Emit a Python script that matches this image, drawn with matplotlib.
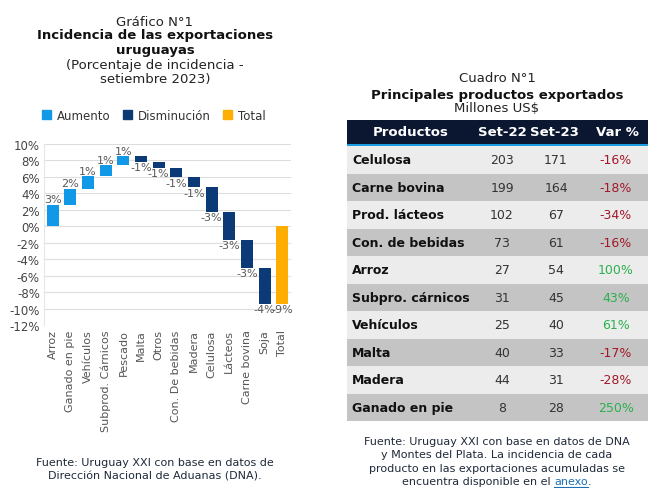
import matplotlib
matplotlib.use("Agg")
import matplotlib.pyplot as plt
from matplotlib.patches import Rectangle, Patch
import numpy as np

# ---- Waterfall data ----
categories = ["Arroz", "Ganado en pie", "Vehículos", "Subprod. Cárnicos", "Pescado",
              "Malta", "Otros", "Con. De bebidas", "Madera", "Celulosa", "Lácteos",
              "Carne bovina", "Soja"]
incidence = [2.64, 1.95, 1.47, 1.34, 1.14, -0.69, -0.73, -1.18, -1.20, -3.00, -3.38, -3.40, -4.35]
total_label = "Total"
y_ticks = [10, 8, 6, 4, 2, 0, -2, -4, -6, -8, -10, -12]

# ---- Table data ----
products = ["Celulosa", "Carne bovina", "Prod. lácteos", "Con. de bebidas", "Arroz",
            "Subpro. cárnicos", "Vehículos", "Malta", "Madera", "Ganado en pie"]
set22 = [203, 199, 102, 73, 27, 31, 25, 40, 44, 8]
set23 = [171, 164, 67, 61, 54, 45, 40, 33, 31, 28]
var_pct = [-16, -18, -34, -16, 100, 43, 61, -17, -28, 250]
headers = ["Productos", "Set-22", "Set-23", "Var %"]

C_UP = "#1198e6"
C_DOWN = "#0c3a77"
C_TOT = "#fdae00"
LBL = "#595959"

W, H = 650, 489
fig = plt.figure(figsize=(6.5, 4.89), dpi=100)
fig.patch.set_facecolor("white")

def fx(px):
    return px / W

def fy(py):
    return 1 - py / H

# ---- Left titles ----
cx = 155
fig.text(fx(cx), fy(22), "Gráfico N°1", ha="center", va="center", fontsize=9.5, color="#222222")
fig.text(fx(cx), fy(36), "Incidencia de las exportaciones", ha="center", va="center",
         fontsize=9.5, fontweight="bold", color="#111111")
fig.text(fx(cx), fy(51), "uruguayas", ha="center", va="center", fontsize=9.5,
         fontweight="bold", color="#111111")
fig.text(fx(cx), fy(66), "(Porcentaje de incidencia -", ha="center", va="center",
         fontsize=9.5, color="#222222")
fig.text(fx(cx), fy(80), "setiembre 2023)", ha="center", va="center", fontsize=9.5, color="#222222")

# ---- Waterfall axes ----
ax = fig.add_axes([fx(44), fy(326), fx(291) - fx(44), fy(145) - fy(326)])
vals = np.array(incidence)
ends = np.cumsum(vals)
starts = ends - vals
n = len(categories)
x = np.arange(n + 1)
colors = [C_UP if v >= 0 else C_DOWN for v in vals]
ax.bar(x[:n], vals, bottom=starts, width=0.68, color=colors, zorder=3)
total = ends[-1]
ax.bar(x[n], total, bottom=0, width=0.68, color=C_TOT, zorder=3)

for i, v in enumerate(vals):
    lab = f"{round(v):d}%"
    if v >= 0:
        ax.text(x[i], ends[i] + 0.05, lab, ha="center", va="bottom", fontsize=8, color=LBL, zorder=4)
    else:
        ax.text(x[i], ends[i] - 0.05, lab, ha="center", va="top", fontsize=8, color=LBL, zorder=4)
ax.text(x[n], total - 0.05, f"{round(total):d}%", ha="center", va="top", fontsize=8, color=LBL, zorder=4)

ax.set_xlim(-0.5, n + 0.5)
ax.set_ylim(-12, 10)
ax.set_yticks(y_ticks)
ax.set_yticklabels([f"{t}%" for t in y_ticks], fontsize=8.5, color="#444444")
ax.set_xticks(x)
ax.set_xticklabels(categories + [total_label], rotation=90, fontsize=8, color="#555555")
ax.tick_params(axis="both", length=0, pad=3)
ax.grid(axis="y", color="#dddddd", linewidth=0.8, zorder=0)
for s in ["top", "right", "bottom"]:
    ax.spines[s].set_visible(False)
ax.spines["left"].set_color("#e6e6e6")
ax.spines["left"].set_linewidth(0.8)

# ---- Legend ----
handles = [Patch(color=C_UP, label="Aumento"), Patch(color=C_DOWN, label="Disminución"),
           Patch(color=C_TOT, label="Total")]
fig.legend(handles=handles, loc="center", bbox_to_anchor=(fx(154), fy(116)), ncol=3,
           frameon=False, fontsize=8.5, handlelength=0.8, handleheight=0.8,
           handletextpad=0.5, columnspacing=1.0, labelcolor="#333333")

# ---- Left footer ----
fig.text(fx(155), fy(463), "Fuente: Uruguay XXI con base en datos de", ha="center", va="center",
         fontsize=8, color="#1f2a3a")
fig.text(fx(155), fy(477), "Dirección Nacional de Aduanas (DNA).", ha="center", va="center",
         fontsize=8, color="#1f2a3a")

# ---- Right titles ----
rx = 497
fig.text(fx(rx), fy(79), "Cuadro N°1", ha="center", va="center", fontsize=9.5, color="#222222")
fig.text(fx(rx), fy(95), "Principales productos exportados", ha="center", va="center",
         fontsize=9.5, fontweight="bold", color="#111111")
fig.text(fx(rx), fy(109), "Millones US$", ha="center", va="center", fontsize=9.5, color="#222222")

# ---- Table ----
tl, tr, tt, tb = 347, 648, 121, 422
tax = fig.add_axes([fx(tl), fy(tb), fx(tr) - fx(tl), fy(tt) - fy(tb)])
tax.set_xlim(tl, tr)
tax.set_ylim(tb, tt)
tax.axis("off")
head_h = 26
nrows = len(products)
row_h = (tb - tt - head_h) / nrows
tax.add_patch(Rectangle((tl, tt), tr - tl, head_h, color="#0b1731", lw=0))
tax.add_patch(Rectangle((tl, tt + head_h - 2.5), tr - tl, 2.5, color="#1a9be2", lw=0))
head_x = [411, 502, 554, 617]
col_x = [None, 502, 556, 616]
for h, cxp in zip(headers, head_x):
    tax.text(cxp, tt + head_h / 2 - 1, h, ha="center", va="center", fontsize=9.5,
             fontweight="bold", color="white")
for i in range(nrows):
    y0 = tt + head_h + i * row_h
    bg = "#ececec" if i % 2 == 0 else "#c4c4c4"
    tax.add_patch(Rectangle((tl, y0), tr - tl, row_h, color=bg, lw=0))
    yc = y0 + row_h / 2
    tax.text(352, yc, products[i], ha="left", va="center", fontsize=9, fontweight="bold",
             color="#111111")
    tax.text(col_x[1], yc, str(set22[i]), ha="center", va="center", fontsize=9, color="#333333")
    tax.text(col_x[2], yc, str(set23[i]), ha="center", va="center", fontsize=9, color="#333333")
    vc = "#a3182a" if var_pct[i] < 0 else "#2bb04e"
    tax.text(col_x[3], yc, f"{var_pct[i]}%", ha="center", va="center", fontsize=9, color=vc)

# ---- Right footer ----
fig.text(fx(rx), fy(442), "Fuente: Uruguay XXI con base en datos de DNA", ha="center",
         va="center", fontsize=8, color="#1f2a3a")
fig.text(fx(rx), fy(455.5), "y Montes del Plata. La incidencia de cada", ha="center",
         va="center", fontsize=8, color="#1f2a3a")
fig.text(fx(rx), fy(469), "producto en las exportaciones acumuladas se", ha="center",
         va="center", fontsize=8, color="#1f2a3a")
yl = 482.5
t1 = fig.text(0, fy(yl), "encuentra disponible en el ", ha="left", va="center",
              fontsize=8, color="#1f2a3a")
t2 = fig.text(0, fy(yl), "anexo", ha="left", va="center", fontsize=8, color="#1a6fb5")
t3 = fig.text(0, fy(yl), ".", ha="left", va="center", fontsize=8, color="#1f2a3a")
fig.canvas.draw()
r = fig.canvas.get_renderer()
bb1 = t1.get_window_extent(r)
bb2 = t2.get_window_extent(r)
bb3 = t3.get_window_extent(r)
total_w = bb1.width + bb2.width + bb3.width
start = rx - total_w / 2
t1.set_x(fx(start))
t2.set_x(fx(start + bb1.width))
t3.set_x(fx(start + bb1.width + bb2.width))
ux0 = start + bb1.width
ux1 = ux0 + bb2.width
fig.add_artist(plt.Line2D([fx(ux0), fx(ux1)], [fy(488), fy(488)],
                          color="#1a6fb5", lw=0.8))

fig.savefig("out.png", dpi=100, facecolor="white")
